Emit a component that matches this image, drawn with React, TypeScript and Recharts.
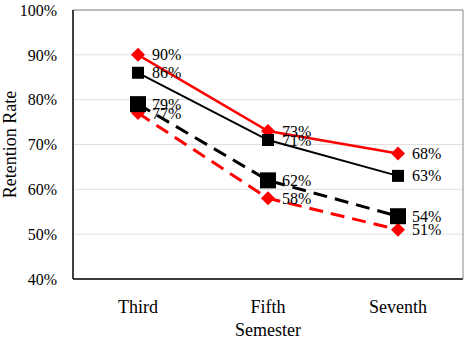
import React from 'react';
import { LineChart, Line, XAxis, YAxis, CartesianGrid, ReferenceLine, LabelList } from 'recharts';

const semesters = ['Third', 'Fifth', 'Seventh'];
const redSolid = [90, 73, 68];
const blackSolid = [86, 71, 63];
const blackDashed = [79, 62, 54];
const redDashed = [77, 58, 51];
const yTicks = [40, 50, 60, 70, 80, 90, 100];

const data = semesters.map((name, i) => ({
  name,
  redSolid: redSolid[i],
  blackSolid: blackSolid[i],
  blackDashed: blackDashed[i],
  redDashed: redDashed[i],
}));

const FONT = 'Liberation Serif';

const diamond = (r: number, color: string) => (props: any) => {
  const { cx, cy, index } = props;
  return (
    <polygon
      key={`d-${index}`}
      points={`${cx},${cy - r} ${cx + r},${cy} ${cx},${cy + r} ${cx - r},${cy}`}
      fill={color}
    />
  );
};

const square = (s: number, color: string) => (props: any) => {
  const { cx, cy, index } = props;
  return <rect key={`s-${index}`} x={cx - s / 2} y={cy - s / 2} width={s} height={s} fill={color} />;
};

// value labels sit just right of each marker
const pctLabel = (props: any) => {
  const { x, y, value } = props;
  return (
    <text x={x + 14} y={y} dominantBaseline="central" fontFamily={FONT} fontSize={16} fill="#000">
      {value}%
    </text>
  );
};

const smallText = { fontFamily: FONT, fontSize: 16, fill: '#000' };
const bigText = { fontFamily: FONT, fontSize: 18, fill: '#000' };

const App: React.FC = () => {
  return (
    <div style={{ position: 'absolute', left: 0, top: 0, width: 467, height: 340, background: '#fff' }}>
      <LineChart width={467} height={340} data={data} margin={{ top: 10, right: 0, left: 0, bottom: 0 }}>
        <CartesianGrid vertical={false} stroke="#e0e0e0" />
        <XAxis
          dataKey="name"
          height={61}
          padding={{ left: 65, right: 65 }}
          tickLine={false}
          tickMargin={15}
          axisLine={{ stroke: '#000', strokeWidth: 1.5 }}
          tick={bigText}
          label={{ value: 'Semester', position: 'insideBottom', offset: 4, style: bigText }}
        />
        <YAxis
          domain={[40, 100]}
          ticks={yTicks}
          width={73}
          tickLine={false}
          tickMargin={10}
          interval={0}
          tickFormatter={(v: number) => `${v}%`}
          axisLine={{ stroke: '#000', strokeWidth: 1.5 }}
          tick={smallText}
          label={{ value: 'Retention Rate', angle: -90, position: 'insideLeft', offset: 10, style: { ...bigText, textAnchor: 'middle' } }}
        />
        <YAxis yAxisId="right" orientation="right" width={4} domain={[40, 100]} tick={false} tickLine={false} axisLine={{ stroke: '#888' }} />
        <ReferenceLine y={100} stroke="#888" />

        <Line
          dataKey="redDashed"
          stroke="#ff0000"
          strokeWidth={3}
          strokeDasharray="14 8"
          dot={diamond(7, '#ff0000')}
          isAnimationActive={false}
        >
          <LabelList dataKey="redDashed" content={pctLabel} />
        </Line>
        <Line
          dataKey="blackDashed"
          stroke="#000"
          strokeWidth={3}
          strokeDasharray="14 8"
          dot={square(16, '#000')}
          isAnimationActive={false}
        >
          <LabelList dataKey="blackDashed" content={pctLabel} />
        </Line>
        <Line
          dataKey="redSolid"
          stroke="#ff0000"
          strokeWidth={2.5}
          dot={diamond(7, '#ff0000')}
          isAnimationActive={false}
        >
          <LabelList dataKey="redSolid" content={pctLabel} />
        </Line>
        <Line
          dataKey="blackSolid"
          stroke="#000"
          strokeWidth={2}
          dot={square(12, '#000')}
          isAnimationActive={false}
        >
          <LabelList dataKey="blackSolid" content={pctLabel} />
        </Line>
      </LineChart>
    </div>
  );
};

export default App;
